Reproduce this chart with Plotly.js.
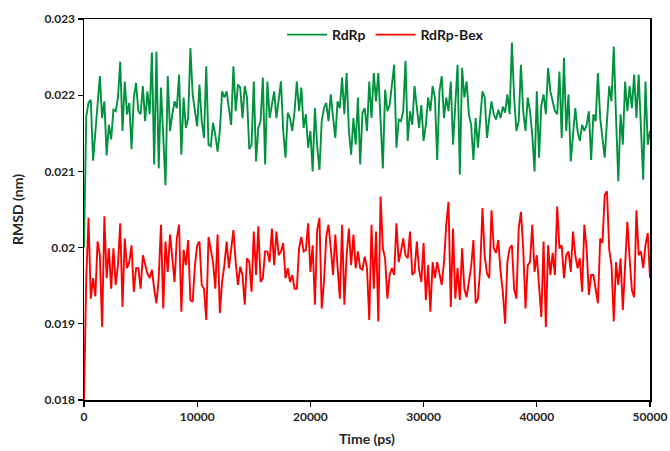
<!DOCTYPE html>
<html>
<head>
<meta charset="utf-8">
<script src="https://cdn.plot.ly/plotly-3.0.1.min.js"></script>
<style>html,body{margin:0;padding:0;background:#fff;}#chart{width:670px;height:451px;}</style>
</head>
<body>
<div id="chart"></div>
<script>
const seriesNames = ["RdRp", "RdRp-Bex"];
const timeStart = 0;
const timeStep = 200;
const rdrp = [
0.02000,0.02172,0.02190,0.02194,0.02114,0.02153,0.02197,0.02225,0.02170,0.02192,
0.02121,0.02161,0.02142,0.02181,0.02179,0.02197,0.02244,0.02153,0.02218,0.02175,
0.02190,0.02129,0.02197,0.02216,0.02179,0.02175,0.02212,0.02166,0.02205,0.02175,
0.02256,0.02109,0.02257,0.02104,0.02210,0.02140,0.02082,0.02225,0.02153,0.02175,
0.02192,0.02183,0.02227,0.02122,0.02197,0.02157,0.02170,0.02262,0.02201,0.02179,
0.02159,0.02214,0.02166,0.02144,0.02238,0.02135,0.02133,0.02164,0.02148,0.02126,
0.02153,0.02205,0.02197,0.02205,0.02183,0.02161,0.02238,0.02179,0.02214,0.02210,
0.02170,0.02212,0.02197,0.02129,0.02135,0.02218,0.02113,0.02157,0.02166,0.02223,
0.02109,0.02218,0.02170,0.02187,0.02205,0.02170,0.02192,0.02218,0.02153,0.02118,
0.02177,0.02170,0.02153,0.02179,0.02218,0.02179,0.02210,0.02157,0.02175,0.02131,
0.02153,0.02100,0.02183,0.02133,0.02102,0.02166,0.02183,0.02190,0.02166,0.02201,
0.02172,0.02144,0.02192,0.02183,0.02223,0.02175,0.02229,0.02153,0.02122,0.02170,
0.02135,0.02197,0.02109,0.02177,0.02183,0.02153,0.02218,0.02170,0.02229,0.02192,
0.02229,0.02170,0.02104,0.02207,0.02179,0.02187,0.02210,0.02240,0.02131,0.02168,
0.02166,0.02179,0.02245,0.02140,0.02179,0.02161,0.02212,0.02183,0.02157,0.02187,
0.02140,0.02161,0.02197,0.02179,0.02212,0.02197,0.02115,0.02205,0.02225,0.02170,
0.02197,0.02179,0.02218,0.02135,0.02197,0.02240,0.02096,0.02236,0.02197,0.02218,
0.02175,0.02161,0.02115,0.02170,0.02131,0.02175,0.02205,0.02197,0.02144,0.02170,
0.02192,0.02175,0.02168,0.02181,0.02170,0.02185,0.02177,0.02201,0.02175,0.02269,
0.02197,0.02153,0.02166,0.02240,0.02179,0.02153,0.02197,0.02179,0.02148,0.02100,
0.02205,0.02118,0.02187,0.02201,0.02175,0.02236,0.02205,0.02192,0.02179,0.02175,
0.02231,0.02144,0.02249,0.02153,0.02201,0.02113,0.02144,0.02183,0.02153,0.02140,
0.02161,0.02153,0.02161,0.02179,0.02115,0.02175,0.02166,0.02229,0.02170,0.02140,
0.02118,0.02166,0.02212,0.02192,0.02264,0.02170,0.02087,0.02175,0.02135,0.02218,
0.02179,0.02212,0.02183,0.02227,0.02170,0.02227,0.02166,0.02089,0.02218,0.02135,
0.02153
];
const rdrpBex = [
0.01800,0.01960,0.02039,0.01933,0.01960,0.01936,0.02008,0.01990,0.01896,0.02041,
0.01960,0.01999,0.01946,0.01999,0.01951,0.01977,0.02032,0.01922,0.02012,0.01973,
0.01981,0.02003,0.01942,0.01973,0.01973,0.01946,0.01990,0.01977,0.01966,0.01960,
0.01971,0.01946,0.01927,0.01960,0.02030,0.01920,0.02008,0.01968,0.02017,0.01986,
0.01955,0.02012,0.02030,0.01916,0.01997,0.01977,0.02010,0.01931,0.01929,0.01977,
0.02003,0.02008,0.01951,0.01946,0.01905,0.02014,0.01995,0.01981,0.01946,0.02017,
0.01914,0.01955,0.01977,0.02008,0.01973,0.01999,0.02023,0.01981,0.01951,0.01975,
0.01964,0.01925,0.01986,0.01981,0.01942,0.02021,0.01964,0.02028,0.01955,0.01960,
0.01995,0.01995,0.01981,0.02025,0.01977,0.02021,0.01990,0.01995,0.02006,0.01960,
0.01973,0.01955,0.01964,0.01946,0.01946,0.01999,0.02014,0.01995,0.01997,0.02032,
0.01968,0.02003,0.01925,0.02023,0.02039,0.01920,0.01955,0.02014,0.02030,0.01999,
0.01964,0.02017,0.01977,0.01933,0.02030,0.01925,0.01990,0.02025,0.01977,0.02017,
0.01973,0.01995,0.01973,0.01971,0.01988,0.01973,0.01905,0.02030,0.01946,0.02021,
0.01903,0.02067,0.01999,0.01986,0.01933,0.01964,0.01973,0.01964,0.02032,0.01981,
0.01995,0.02012,0.01990,0.01986,0.02021,0.01964,0.01968,0.02008,0.01971,0.01955,
0.02006,0.01931,0.01977,0.01916,0.01981,0.01960,0.01981,0.01968,0.01951,0.01981,
0.02030,0.02060,0.01922,0.02025,0.01933,0.01973,0.01931,0.01999,0.01946,0.01935,
0.01955,0.01975,0.02010,0.01927,0.01933,0.01973,0.02052,0.01988,0.01966,0.01960,
0.02049,0.01999,0.01993,0.02010,0.01968,0.01942,0.01900,0.01981,0.01999,0.02003,
0.01946,0.01933,0.02025,0.02047,0.01999,0.01920,0.01977,0.01981,0.02030,0.01968,
0.01990,0.01955,0.01909,0.02008,0.01896,0.02003,0.01964,0.01993,0.01964,0.02054,
0.01999,0.02003,0.01960,0.01990,0.01995,0.01968,0.02021,0.01990,0.01973,0.01986,
0.01942,0.02030,0.01999,0.01938,0.01964,0.01964,0.01942,0.01927,0.02012,0.02006,
0.02069,0.02074,0.01997,0.01977,0.01903,0.01981,0.01951,0.01986,0.01918,0.01968,
0.02034,0.01986,0.01944,0.01935,0.02049,0.01990,0.01995,0.01973,0.02003,0.02019,
0.01960
];
const xTickVals = [0, 10000, 20000, 30000, 40000, 50000];
const xTickText = ["0", "10000", "20000", "30000", "40000", "50000"];
const yTickVals = [0.018, 0.019, 0.020, 0.021, 0.022, 0.023];
const yTickText = ["0.018", "0.019", "0.02", "0.021", "0.022", "0.023"];
const xTitle = "Time (ps)";
const yTitle = "RMSD (nm)";

const FONT = "Lato, 'Open Sans', sans-serif";
const traces = [
  {x0: timeStart, dx: timeStep, y: rdrp, name: seriesNames[0], type: "scatter", mode: "lines",
   line: {color: "#00923F", width: 1.9}},
  {x0: timeStart, dx: timeStep, y: rdrpBex, name: seriesNames[1], type: "scatter", mode: "lines",
   line: {color: "#FF0000", width: 1.9}}
];
const axisCommon = {
  showgrid: false, zeroline: false, showline: true, mirror: true,
  linecolor: "#000", linewidth: 1.5, ticks: "outside", ticklen: 5, tickwidth: 1.2, tickcolor: "#000",
  tickfont: {family: FONT, size: 12, color: "#262626", weight: "bold"}
};
const layout = {
  width: 670, height: 451,
  margin: {l: 84, r: 20, t: 19, b: 51},
  paper_bgcolor: "#fff", plot_bgcolor: "#fff",
  showlegend: true,
  legend: {orientation: "h", x: 0.35, xanchor: "left", y: 1.0, yanchor: "top",
           bgcolor: "rgba(0,0,0,0)", font: {family: FONT, size: 14, color: "#1a1a1a", weight: "bold"},
           itemwidth: 40},
  xaxis: Object.assign({}, axisCommon, {range: [0, 50000], tickmode: "array", tickvals: xTickVals, ticktext: xTickText,
    title: {text: xTitle, font: {family: FONT, size: 14, color: "#262626", weight: "bold"}, standoff: 11}}),
  yaxis: Object.assign({}, axisCommon, {range: [0.018, 0.023], tickmode: "array", tickvals: yTickVals, ticktext: yTickText,
    title: {text: yTitle, font: {family: FONT, size: 14, color: "#262626", weight: "bold"}, standoff: 17}})
};
Plotly.newPlot("chart", traces, layout, {displayModeBar: false, staticPlot: true});
</script>
</body>
</html>
